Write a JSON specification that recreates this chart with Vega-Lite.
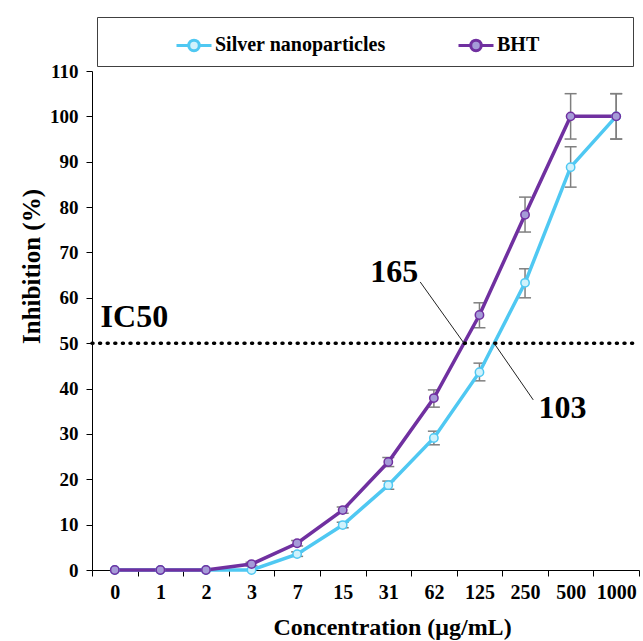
{
  "$schema": "https://vega.github.io/schema/vega-lite/v6.json",
  "width": 547,
  "height": 499,
  "autosize": {"type": "none"},
  "padding": {"left": 92, "top": 71, "right": 4, "bottom": 71},
  "background": "white",
  "config": {
    "view": {"stroke": null},
    "font": "Liberation Serif",
    "axis": {"labelFont": "Liberation Serif", "titleFont": "Liberation Serif"},
    "legend": {"labelFont": "Liberation Serif", "titleFont": "Liberation Serif"}
  },
  "datasets": {
    "obs": [
      {"series": "Silver nanoparticles", "conc": 0, "mean": 0, "lo": 0, "hi": 0},
      {"series": "Silver nanoparticles", "conc": 1, "mean": 0, "lo": 0, "hi": 0},
      {"series": "Silver nanoparticles", "conc": 2, "mean": 0, "lo": 0, "hi": 0},
      {"series": "Silver nanoparticles", "conc": 3, "mean": 0, "lo": 0, "hi": 0},
      {"series": "Silver nanoparticles", "conc": 7, "mean": 3.5, "lo": 3.0, "hi": 4.0},
      {"series": "Silver nanoparticles", "conc": 15, "mean": 9.9, "lo": 9.3, "hi": 10.5},
      {"series": "Silver nanoparticles", "conc": 31, "mean": 18.7, "lo": 17.8, "hi": 19.6},
      {"series": "Silver nanoparticles", "conc": 62, "mean": 29.1, "lo": 27.6, "hi": 30.6},
      {"series": "Silver nanoparticles", "conc": 125, "mean": 43.6, "lo": 41.7, "hi": 45.6},
      {"series": "Silver nanoparticles", "conc": 250, "mean": 63.3, "lo": 60.0, "hi": 66.4},
      {"series": "Silver nanoparticles", "conc": 500, "mean": 88.8, "lo": 84.4, "hi": 93.3},
      {"series": "Silver nanoparticles", "conc": 1000, "mean": 100, "lo": 95, "hi": 105},
      {"series": "BHT", "conc": 0, "mean": 0, "lo": 0, "hi": 0},
      {"series": "BHT", "conc": 1, "mean": 0, "lo": 0, "hi": 0},
      {"series": "BHT", "conc": 2, "mean": 0, "lo": 0, "hi": 0},
      {"series": "BHT", "conc": 3, "mean": 1.3, "lo": 0.9, "hi": 1.7},
      {"series": "BHT", "conc": 7, "mean": 5.9, "lo": 5.3, "hi": 6.5},
      {"series": "BHT", "conc": 15, "mean": 13.2, "lo": 12.5, "hi": 13.9},
      {"series": "BHT", "conc": 31, "mean": 23.8, "lo": 22.8, "hi": 24.8},
      {"series": "BHT", "conc": 62, "mean": 37.9, "lo": 35.9, "hi": 39.7},
      {"series": "BHT", "conc": 125, "mean": 56.2, "lo": 53.4, "hi": 58.9},
      {"series": "BHT", "conc": 250, "mean": 78.3, "lo": 74.5, "hi": 82.2},
      {"series": "BHT", "conc": 500, "mean": 100, "lo": 95, "hi": 105},
      {"series": "BHT", "conc": 1000, "mean": 100, "lo": 95, "hi": 105}
    ],
    "threshold": [
      {"level": 50}
    ],
    "notes": [
      {"label": "IC50", "x": 0.43, "y": 53.6},
      {"label": "165", "x": 6.13, "y": 63.5},
      {"label": "103", "x": 9.82, "y": 33.5}
    ],
    "leaders": [
      {"x": 6.7, "y": 63.5, "x2": 7.66, "y2": 50},
      {"x": 8.32, "y": 50, "x2": 9.18, "y2": 37.5}
    ]
  },
  "layer": [
    {
      "data": {"name": "obs"},
      "encoding": {
        "x": {
          "field": "conc",
          "type": "ordinal",
          "sort": "ascending",
          "bandPosition": 0.5,
          "scale": {"type": "band", "paddingInner": 0, "paddingOuter": 0},
          "axis": {
            "title": "Concentration (μg/mL)",
            "tickBand": "extent",
            "labelAngle": 0,
            "labelFont": "Liberation Serif",
            "labelFontWeight": "bold",
            "labelFontSize": 20,
            "labelColor": "black",
            "labelPadding": 6,
            "tickSize": 6,
            "tickColor": "black",
            "domainColor": "black",
            "titleFont": "Liberation Serif",
            "titleFontWeight": "bold",
            "titleFontSize": 24,
            "titleColor": "black",
            "titleX": 300,
            "titleY": 64,
            "titleBaseline": "alphabetic"
          }
        }
      },
      "layer": [
        {
          "transform": [{"filter": "datum.hi > datum.lo"}],
          "mark": {"type": "rule", "color": "#7f7f7f", "strokeWidth": 1.5},
          "encoding": {
            "y": {"field": "lo", "type": "quantitative", "scale": {"domain": [0, 110], "nice": false}},
            "y2": {"field": "hi"}
          }
        },
        {
          "transform": [{"filter": "datum.hi > datum.lo"}],
          "mark": {"type": "tick", "orient": "horizontal", "size": 12, "thickness": 1.5, "color": "#7f7f7f", "opacity": 1},
          "encoding": {"y": {"field": "lo", "type": "quantitative"}}
        },
        {
          "transform": [{"filter": "datum.hi > datum.lo"}],
          "mark": {"type": "tick", "orient": "horizontal", "size": 12, "thickness": 1.5, "color": "#7f7f7f", "opacity": 1},
          "encoding": {"y": {"field": "hi", "type": "quantitative"}}
        },
        {
          "mark": {"type": "line", "strokeWidth": 3.5},
          "encoding": {
            "y": {
              "field": "mean",
              "type": "quantitative",
              "scale": {"domain": [0, 110], "nice": false},
              "axis": {
                "title": "Inhibition  (%)",
                "values": [0, 10, 20, 30, 40, 50, 60, 70, 80, 90, 100, 110],
                "grid": false,
                "labelFont": "Liberation Serif",
                "labelFontWeight": "bold",
                "labelFontSize": 19,
                "labelColor": "black",
                "labelPadding": 8,
                "tickSize": 6,
                "tickColor": "black",
                "domainColor": "black",
                "titleFont": "Liberation Serif",
                "titleFontWeight": "bold",
                "titleFontSize": 25,
                "titleColor": "black",
                "titleX": -61,
                "titleY": 195,
                "titleBaseline": "middle"
              }
            },
            "stroke": {
              "field": "series",
              "type": "nominal",
              "scale": {"domain": ["Silver nanoparticles", "BHT"], "range": ["#4fc8f2", "#7030a0"]},
              "legend": {
                "title": " ",
                "titleOrient": "right",
                "titlePadding": 85,
                "orient": "none",
                "legendX": 5,
                "legendY": -54,
                "direction": "horizontal",
                "strokeColor": "#404040",
                "padding": 9,
                "symbolType": "M-1,0L-0.3,0M0.3,0L1,0M-0.3,0A0.3,0.3,0,1,1,0.3,0A0.3,0.3,0,1,1,-0.3,0Z",
                "symbolSize": 1225,
                "symbolStrokeWidth": 3,
                "symbolOffset": 69,
                "labelFont": "Liberation Serif",
                "labelFontWeight": "bold",
                "labelFontSize": 20,
                "labelColor": "black",
                "labelLimit": 400,
                "labelOffset": 2,
                "columnPadding": 2
              }
            },
            "order": {"field": "conc", "type": "quantitative"}
          }
        },
        {
          "mark": {"type": "point", "shape": "circle", "size": 70, "strokeWidth": 1.5, "opacity": 1},
          "encoding": {
            "y": {"field": "mean", "type": "quantitative"},
            "stroke": {"field": "series", "type": "nominal"},
            "fill": {
              "field": "series",
              "type": "nominal",
              "scale": {"domain": ["Silver nanoparticles", "BHT"], "range": ["#d0f2fc", "#a59bd8"]}
            }
          }
        }
      ]
    },
    {
      "encoding": {},
      "layer": [
        {
          "mark": {"type": "rect", "fillOpacity": 0, "stroke": "#333333", "strokeWidth": 1.5},
          "encoding": {
            "x": {"datum": -2.28, "type": "quantitative", "scale": {"domain": [-0.5, 11.5], "nice": false, "zero": false}, "axis": null},
            "x2": {"datum": 12.5},
            "y": {"datum": 123.5, "type": "quantitative", "scale": {"domain": [0, 110], "nice": false}, "axis": null},
            "y2": {"datum": -20}
          }
        },
        {
          "data": {"name": "threshold"},
          "mark": {"type": "rule", "stroke": "black", "strokeWidth": 3.5, "strokeCap": "round", "strokeDash": [1, 6.6]},
          "encoding": {
            "x": {"datum": -0.5, "type": "quantitative"},
            "x2": {"datum": 11.37},
            "y": {"field": "level", "type": "quantitative"}
          }
        },
        {
          "data": {"name": "leaders"},
          "mark": {"type": "rule", "color": "#222222", "strokeWidth": 1},
          "encoding": {
            "x": {"field": "x", "type": "quantitative"},
            "x2": {"field": "x2"},
            "y": {"field": "y", "type": "quantitative"},
            "y2": {"field": "y2"}
          }
        },
        {
          "data": {"name": "notes"},
          "mark": {"type": "text", "font": "Liberation Serif", "fontWeight": "bold", "fontSize": 32, "align": "center", "baseline": "alphabetic", "color": "black"},
          "encoding": {
            "x": {"field": "x", "type": "quantitative"},
            "y": {"field": "y", "type": "quantitative"},
            "text": {"field": "label"}
          }
        }
      ]
    }
  ],
  "resolve": {"scale": {"x": "independent", "y": "independent", "stroke": "shared", "fill": "shared"}}
}
